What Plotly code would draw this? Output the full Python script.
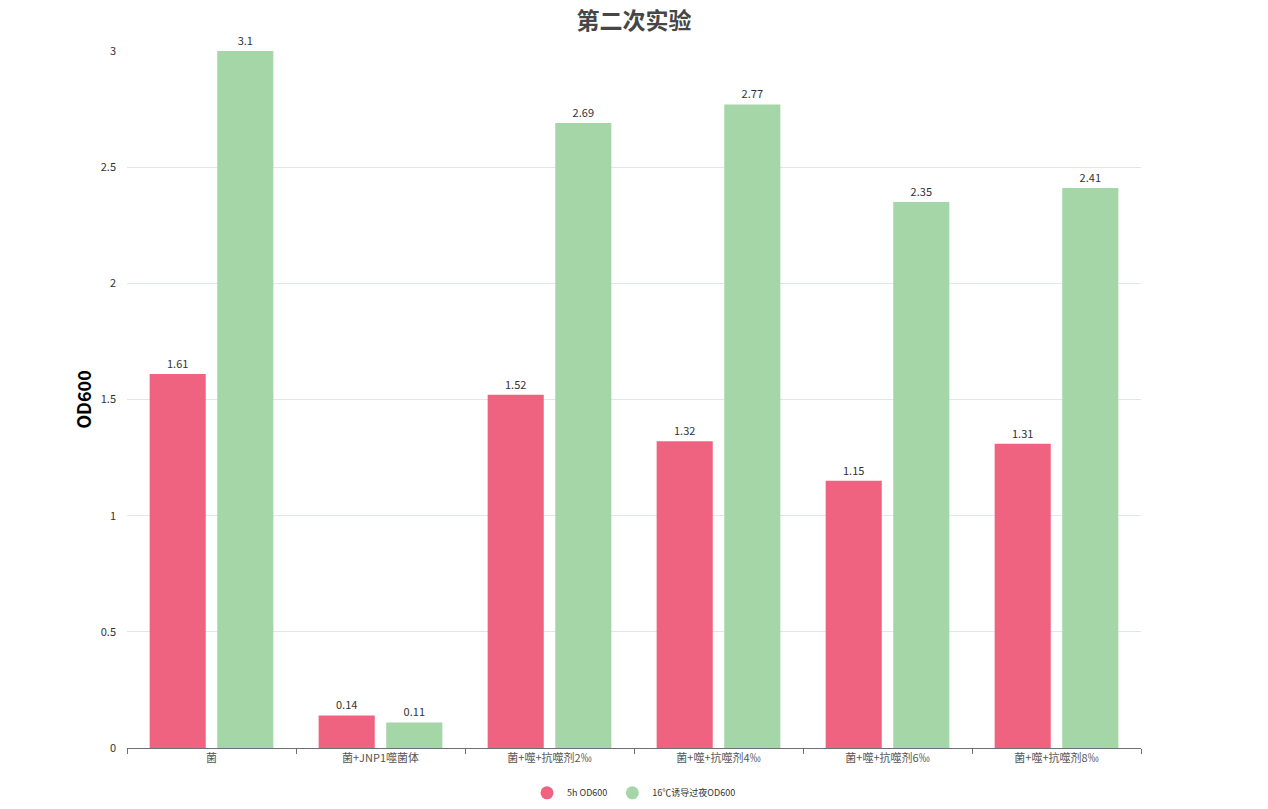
import plotly.graph_objects as go
import numpy as np

categories = ["菌", "菌+JNP1噬菌体", "菌+噬+抗噬剂2‰", "菌+噬+抗噬剂4‰", "菌+噬+抗噬剂6‰", "菌+噬+抗噬剂8‰"]
series_names = ["5h OD600", "16℃诱导过夜OD600"]
od_5h = [1.61, 0.14, 1.52, 1.32, 1.15, 1.31]
od_overnight = [3.1, 0.11, 2.69, 2.77, 2.35, 2.41]
y_ticks = [0, 0.5, 1, 1.5, 2, 2.5, 3]
y_max = 3

colors = ["#ef6381", "#a5d6a7"]
font_family = "Noto Sans CJK SC, Noto Sans, sans-serif"

fig = go.Figure()
for name, vals, col in zip(series_names, [od_5h, od_overnight], colors):
    v = np.array(vals, dtype=float)
    fig.add_trace(go.Bar(
        x=categories, y=np.minimum(v, y_max), name=name,
        marker=dict(color=col, line=dict(width=0)),
        text=[f"{x:g}" for x in v], textposition="outside",
        textfont=dict(size=11, color="#333333", family=font_family),
        cliponaxis=False, showlegend=False, hoverinfo="skip",
    ))
    fig.add_trace(go.Scatter(
        x=[None], y=[None], mode="markers", name=name,
        marker=dict(color=col, size=13, symbol="circle"), showlegend=True,
    ))

fig.update_layout(
    width=1268, height=809,
    paper_bgcolor="white", plot_bgcolor="white",
    margin=dict(l=127, r=127, t=51, b=61),
    font=dict(family=font_family, color="#333333"),
    title=dict(text="<b>第二次实验</b>", x=0.5, xanchor="center", y=0.974, yanchor="middle",
               font=dict(size=23, color="#464646", family=font_family)),
    barmode="group", bargap=0.2, bargroupgap=0.17,
    legend=dict(orientation="h", x=0.5, xanchor="center", yref="container", y=0.02, yanchor="middle",
                font=dict(size=9, color="#333333"), itemwidth=30),
    xaxis=dict(
        showline=True, linecolor="#6e7079", linewidth=1,
        ticks="outside", tickson="boundaries", ticklen=5, tickcolor="#6e7079",
        tickfont=dict(size=11, color="#555555"), showgrid=False,
    ),
    yaxis=dict(
        range=[0, y_max], tickvals=y_ticks, ticktext=[f"{t:g}" for t in y_ticks],
        showgrid=True, gridcolor="#e0e6f1", zeroline=False, showline=False,
        tickfont=dict(size=11, color="#333333"), ticks="", ticklabelstandoff=10,
        title=dict(text="<b>OD600</b>", font=dict(size=18, color="#000000"), standoff=4),
    ),
)

fig.write_html("out.html")
